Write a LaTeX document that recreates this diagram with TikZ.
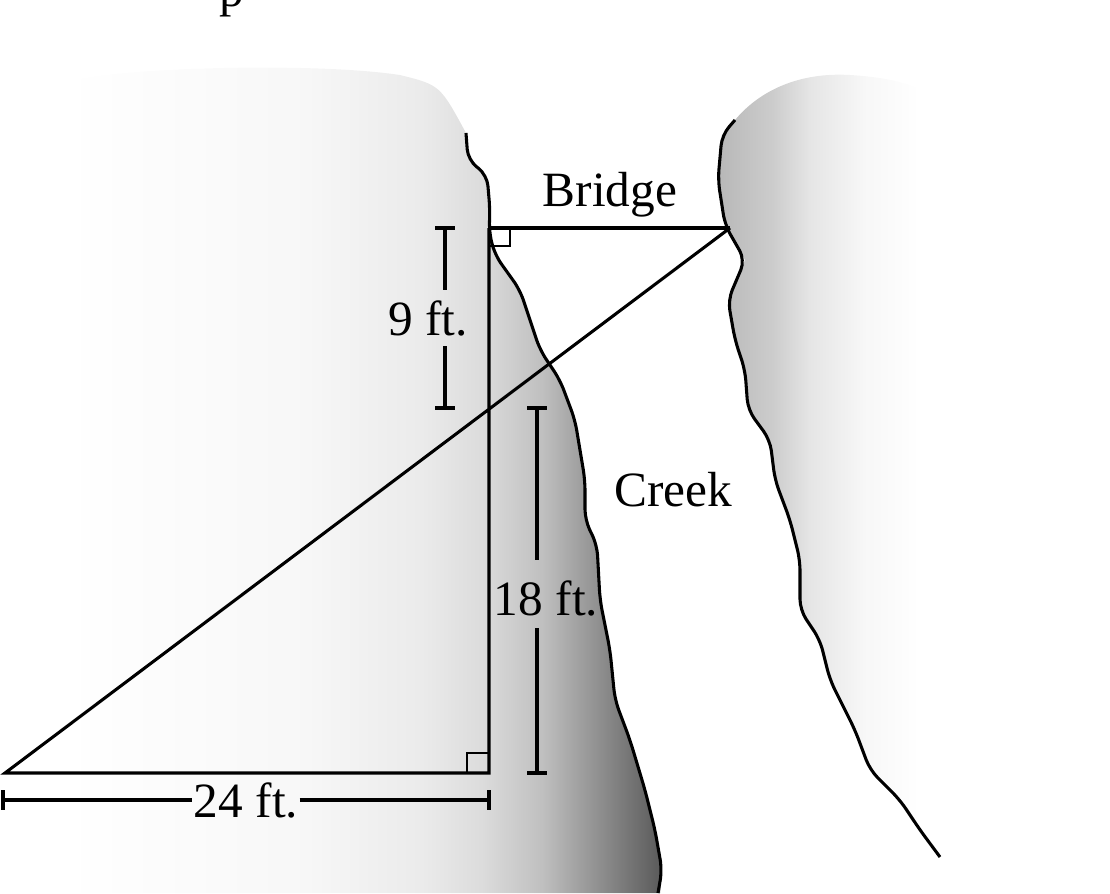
\documentclass[tikz,border=0pt]{standalone}
\usepackage{fontspec}
\setmainfont{Liberation Serif}
\pgfdeclarehorizontalshading{leftcliff}{100bp}{color(0bp)=(white); color(25bp)=(white); color(45bp)=(black!3); color(55bp)=(black!8); color(60bp)=(black!14); color(65bp)=(black!25); color(70bp)=(black!45); color(75bp)=(black!65); color(100bp)=(black!65)}
\pgfdeclarehorizontalshading{rightcliff}{100bp}{color(0bp)=(black!28); color(25bp)=(black!28); color(35bp)=(black!20); color(42bp)=(black!10); color(52bp)=(black!3); color(62bp)=(white); color(100bp)=(white)}
\begin{document}
\begin{tikzpicture}[x=0.75pt,y=-0.75pt,
  ln/.style={line width=2.3pt,black},
  lbl/.style={font=\fontsize{37}{42}\selectfont,inner sep=1pt},
  edge/.style={line width=2.3pt,black,rounded corners=8pt}]
\useasboundingbox (0,0) rectangle (1110,893);
% left cliff
\shade[shading=leftcliff]
  (65,85) .. controls (70,70) and (300,60) .. (400,75) .. controls (440,85) .. (466,133)
  -- (470,160) -- (487,180) -- (489,225) -- (495,255) -- (520,290) -- (540,350) -- (560,380) -- (575,420)
  -- (585,480) -- (585,520) -- (597,545) -- (600,600) -- (610,650) -- (615,700) -- (630,740)
  -- (645,790) -- (655,830) -- (662,870) -- (660,893) -- (65,893) -- cycle;
% right cliff
\shade[shading=rightcliff]
  (735,120) .. controls (760,90) and (800,72) .. (850,75) .. controls (900,78) and (960,90) .. (975,150)
  -- (990,860) -- (940,860) -- (920,830) -- (900,800) -- (870,770) -- (855,730) -- (830,680) -- (820,640)
  -- (800,610) -- (800,560) -- (790,520) -- (775,480) -- (770,440) -- (748,410) -- (745,370) -- (735,340)
  -- (728,300) -- (745,260) -- (725,225) -- (718,180) -- (722,135) -- cycle;
% cliff edges
\draw[edge] (466,133) -- (468,160) -- (487,175) -- (490,210) -- (489,232) -- (495,255) -- (520,290) -- (540,350) -- (560,380) -- (575,420)
  -- (585,480) -- (585,520) -- (597,545) -- (600,600) -- (610,650) -- (615,700) -- (630,740)
  -- (645,790) -- (655,830) -- (662,870) -- (658,893);
\draw[edge] (735,120) -- (722,135) -- (718,180) -- (725,225) -- (745,260) -- (728,300) -- (735,340) -- (745,370)
  -- (748,410) -- (770,440) -- (775,480) -- (790,520) -- (800,560) -- (800,610) -- (820,640)
  -- (830,680) -- (855,730) -- (870,770) -- (900,800) -- (920,830) -- (940,857);
% points
\coordinate (T) at (489,228);
\coordinate (R) at (730,228);
\coordinate (B) at (489,773);
\coordinate (L) at (5,773);
\draw[ln] (T) -- (R);
\draw[ln] (T) -- (B) -- (L) -- (R);
\draw[line width=1.8pt] (489,246) -| (510,228);
\draw[line width=1.8pt] (467,773) |- (489,753);
% dimensions
\node[lbl] (b) at (610,195) {Bridge};
\node[lbl] (c) at (673,490) {Creek};
\node[lbl] (n) at (428,318) {9 ft.};
\node[lbl] (e) at (546,598) {18 ft.};
\node[lbl] (t) at (246,800) {24 ft.};
\node[lbl,anchor=base] (p) at (232,6) {p};
\draw[ln] (435,228) -- (455,228) (435,408) -- (455,408) (445,228) -- (445,290) (445,346) -- (445,408);
\draw[ln] (527,408) -- (547,408) (527,773) -- (547,773) (537,408) -- (537,560) (537,628) -- (537,773);
\draw[ln] (3,790) -- (3,810) (489,790) -- (489,810) (3,800) -- (t.west) (t.east) -- (489,800);
\end{tikzpicture}
\end{document}
